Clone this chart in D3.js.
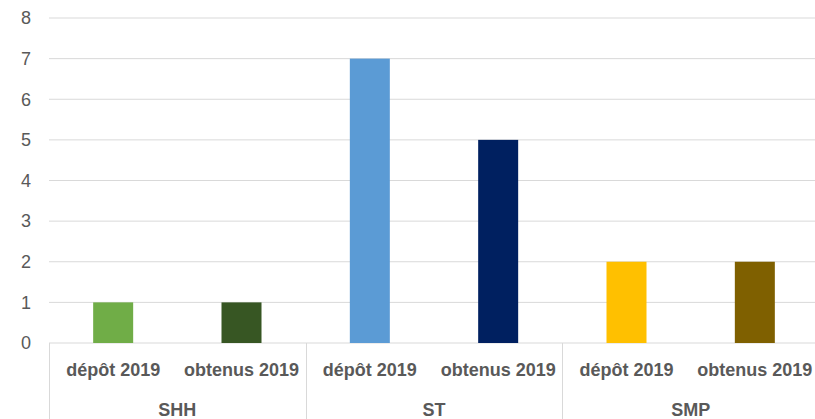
<!DOCTYPE html>
<html>
<head>
<meta charset="utf-8">
<script src="https://cdn.jsdelivr.net/npm/d3@7"></script>
<style>
  body { margin: 0; background: #fff; }
  text { font-family: "Liberation Sans", Arial, sans-serif; fill: #595959; }
</style>
</head>
<body>
<div id="chart"></div>
<script>
// data
const groups = ["SHH", "ST", "SMP"]
const categories = ["dépôt 2019", "obtenus 2019"]
const values = [1, 1, 7, 5, 2, 2]
const colors = ["#70AD47", "#375623", "#5B9BD5", "#002060", "#FFC000", "#7F6000"]
const yTicks = [0, 1, 2, 3, 4, 5, 6, 7, 8]

const width = 815
const height = 419
const margin = {top: 18, right: -4, bottom: 76, left: 49}

const svg = d3.select("#chart")
  .append("svg")
    .attr("width", width)
    .attr("height", height)

// one slot per bar, grouped in pairs
const slots = []
groups.forEach(function(g) {
  categories.forEach(function(c) { slots.push(g + "|" + c) })
})

const x = d3.scaleBand()
  .domain(slots)
  .range([margin.left, width - margin.right])

const y = d3.scaleLinear()
  .domain([0, 8])
  .range([height - margin.bottom, margin.top])

// gridlines
svg.append("g")
  .selectAll("line")
  .data(yTicks)
  .join("line")
    .attr("x1", margin.left)
    .attr("x2", width)
    .attr("y1", d => y(d))
    .attr("y2", d => y(d))
    .attr("stroke", "#d9d9d9")
    .attr("stroke-width", 1)

// y labels
svg.append("g")
  .selectAll("text")
  .data(yTicks)
  .join("text")
    .attr("x", 31)
    .attr("y", d => y(d))
    .attr("dy", "0.35em")
    .attr("text-anchor", "end")
    .style("font-size", "18px")
    .text(d => d)

// bars
const barW = 40
svg.append("g")
  .selectAll("rect")
  .data(values)
  .join("rect")
    .attr("x", (d, i) => x(slots[i]) + x.bandwidth() / 2 - barW / 2)
    .attr("y", d => y(d))
    .attr("width", barW)
    .attr("height", d => y(0) - y(d))
    .attr("fill", (d, i) => colors[i])

// group separators under the axis
const groupW = x.bandwidth() * categories.length
svg.append("g")
  .selectAll("line")
  .data(d3.range(groups.length + 1))
  .join("line")
    .attr("x1", i => Math.round(margin.left + i * groupW) + 0.5)
    .attr("x2", i => Math.round(margin.left + i * groupW) + 0.5)
    .attr("y1", y(0))
    .attr("y2", height)
    .attr("stroke", "#d9d9d9")

// category labels
svg.append("g")
  .selectAll("text")
  .data(slots)
  .join("text")
    .attr("x", d => x(d) + x.bandwidth() / 2)
    .attr("y", 376)
    .attr("text-anchor", "middle")
    .style("font-size", "18px")
    .style("font-weight", "bold")
    .text(d => d.split("|")[1])

// group labels
svg.append("g")
  .selectAll("text")
  .data(groups)
  .join("text")
    .attr("x", (d, i) => margin.left + (i + 0.5) * groupW)
    .attr("y", 416)
    .attr("text-anchor", "middle")
    .style("font-size", "18px")
    .style("font-weight", "bold")
    .text(d => d)
</script>
</body>
</html>
